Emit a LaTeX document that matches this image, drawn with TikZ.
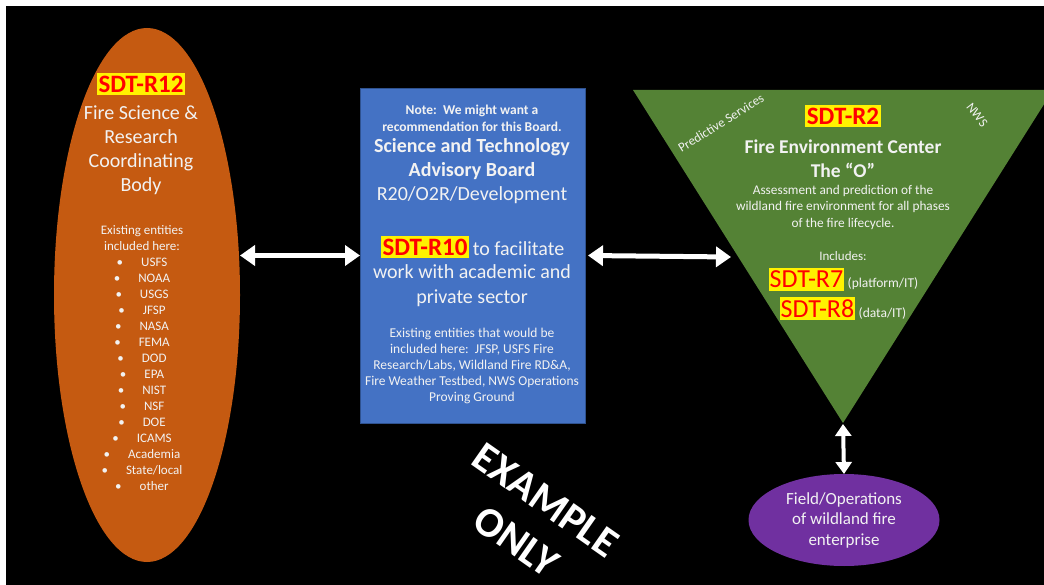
\documentclass[tikz,border=0pt]{standalone}
\usepackage{fontspec}
\setmainfont{Carlito}
\usetikzlibrary{shapes.geometric,arrows.meta}

\definecolor{firebody}{HTML}{C55A11}
\definecolor{boardblue}{HTML}{4472C4}
\definecolor{boardline}{HTML}{2F528F}
\definecolor{fecgreen}{HTML}{548235}
\definecolor{opspurple}{HTML}{7030A0}
\definecolor{paper}{HTML}{F2F2F2}

\newcommand{\fs}[2]{\fontsize{#1}{#2}\selectfont}

\begin{document}
\begin{tikzpicture}[x=1pt,y=-1pt,
    both arrow/.style={{Triangle[length=15pt,width=20pt]}-{Triangle[length=15pt,width=20pt]}, draw=white, line width=5pt},
    short arrow/.style={{Triangle[length=12pt,width=16pt]}-{Triangle[length=12pt,width=16pt]}, draw=white, line width=4pt},
    sdt tag/.style={fill=yellow, text=red, inner xsep=2pt, inner ysep=3pt, font=\fs{25}{28}\bfseries},
    sdt small/.style={fill=yellow, text=red, inner xsep=1pt, inner ysep=3pt, font=\fs{26}{30}},
    txt/.style={text=paper, align=center, inner sep=0pt}]

    % page and background
    \fill[white] (0,0) rectangle (1044,585);
    \useasboundingbox (0,0) rectangle (1044,585);
    \fill[black] (6,6) rectangle (1044,585);

    % fire science body
    \node[ellipse, fill=firebody, minimum width=186, minimum height=534, inner sep=0, outer sep=0] (r12) at (147,295) {};
    \node[sdt tag] (r12id) at (141,84) {SDT-R12};
    \node[txt, font=\fs{20}{24}] (r12name) at (141,150) {Fire Science \&\\Research\\Coordinating\\Body};
    \node[txt, font=\fs{13}{16}] (r12list) at (142,358) {Existing entities\\included here:\\
        \textbullet\hspace{18pt}USFS\\ \textbullet\hspace{18pt}NOAA\\ \textbullet\hspace{18pt}USGS\\
        \textbullet\hspace{18pt}JFSP\\ \textbullet\hspace{18pt}NASA\\ \textbullet\hspace{18pt}FEMA\\
        \textbullet\hspace{18pt}DOD\\ \textbullet\hspace{18pt}EPA\\ \textbullet\hspace{18pt}NIST\\
        \textbullet\hspace{18pt}NSF\\ \textbullet\hspace{18pt}DOE\\ \textbullet\hspace{18pt}ICAMS\\
        \textbullet\hspace{18pt}Academia\\ \textbullet\hspace{18pt}State/local\\ \textbullet\hspace{18pt}other};

    % advisory board
    \node[rectangle, fill=boardblue, draw=boardline, minimum width=225, minimum height=335, inner sep=0, outer sep=0] (board) at (472.5,255.5) {};
    \node[txt, font=\fs{13.5}{17}\bfseries] (note) at (472,118) {Note:\ \ We might want a\\recommendation for this Board.};
    \node[txt, font=\fs{20}{24}] (sab) at (472,171) {\textbf{Science and Technology}\\\textbf{Advisory Board}\\R20/O2R/Development};
    \node[sdt tag] (r10id) at (425,247) {SDT-R10};
    \node[txt, font=\fs{20}{25}, anchor=base west] (r10txt) at ([xshift=3pt]r10id.base east) {to facilitate};
    \node[txt, font=\fs{20}{25}] (r10more) at (472,286) {work with academic and\\private sector};
    \node[txt, font=\fs{13.5}{16}] (boardex) at (472,366) {Existing entities that would be\\included here:\ \ JFSP, USFS Fire\\Research/Labs, Wildland Fire RD\&A,\\Fire Weather Testbed, NWS Operations\\Proving Ground};

    % fire environment center
    \coordinate (fecTL) at (633,90);
    \coordinate (fecTR) at (1053,90);
    \coordinate (fecB) at (843,423);
    \fill[fecgreen] (fecTL) -- (fecTR) -- (fecB) -- cycle;
    \node[txt, font=\fs{13}{15}, rotate=32] (ps) at (721,123) {Predictive Services};
    \node[txt, font=\fs{13}{15}, rotate=-52] (nws) at (977,115) {NWS};
    \node[sdt tag] (r2id) at (843,116) {SDT-R2};
    \node[txt, font=\fs{19.5}{24}\bfseries] (fec) at (843,159) {Fire Environment Center\\The “O”};
    \node[txt, font=\fs{13.3}{16.5}] (fecdesc) at (843,207) {Assessment and prediction of the\\wildland fire environment for all phases\\of the fire lifecycle.};
    \node[txt, font=\fs{13}{16}] (incl) at (843,256) {Includes:};
    \node[sdt small] (r7id) at (806.5,279.5) {SDT-R7};
    \node[txt, font=\fs{13.5}{15}, anchor=base west] (r7txt) at ([xshift=3pt]r7id.base east) {(platform/IT)};
    \node[sdt small] (r8id) at (817.5,308.5) {SDT-R8};
    \node[txt, font=\fs{13.5}{15}, anchor=base west] (r8txt) at ([xshift=3pt]r8id.base east) {(data/IT)};
    \coordinate (fecL) at (731,257);

    % field operations
    \node[ellipse, fill=opspurple, minimum width=191, minimum height=92, inner sep=0, outer sep=0, txt, font=\fs{17}{20.5}] (ops) at (844,520) {Field/Operations\\of wildland fire\\enterprise};

    % watermark
    \node[txt, font=\fs{42}{51}\bfseries, text=white, rotate=-35] (mark) at (531,521) {EXAMPLE\\ONLY};

    % links
    \draw[both arrow] (r12.east |- board.west) -- (board.west);
    \draw[both arrow] ([xshift=3pt]board.east) -- (fecL);
    \draw[short arrow] ([yshift=-1pt]fecB) -- (ops.north);
\end{tikzpicture}
\end{document}
